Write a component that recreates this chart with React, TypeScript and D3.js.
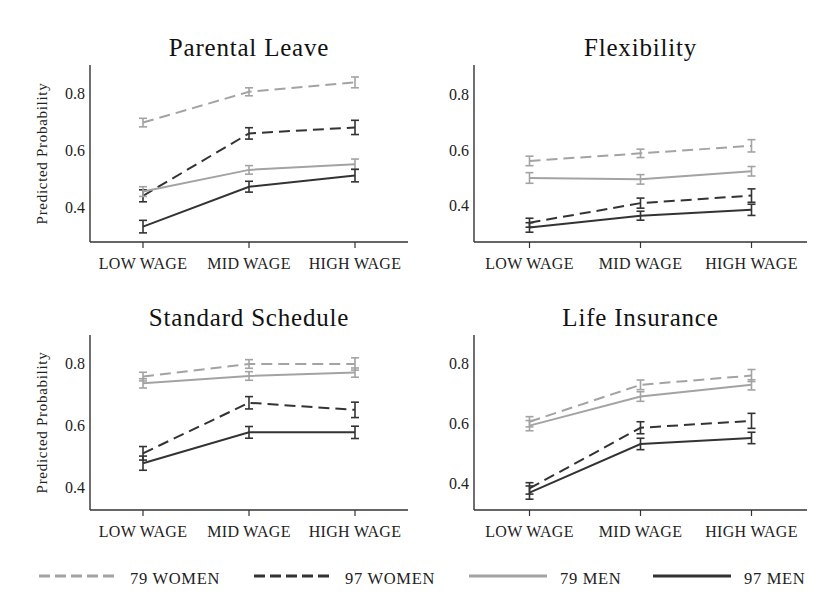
import React from "react";
import * as d3 from "d3";

// Wage categories on the x axis and the four survey cohorts
const WAGES = ["LOW WAGE", "MID WAGE", "HIGH WAGE"];
const GROUPS = ["79 WOMEN", "97 WOMEN", "79 MEN", "97 MEN"];
const Y_TICKS = [0.4, 0.6, 0.8];

// Predicted probabilities (rows follow GROUPS, columns follow WAGES)
const parentalLeaveMeans = [
  [0.698, 0.806, 0.839],
  [0.441, 0.66, 0.681],
  [0.456, 0.532, 0.552],
  [0.333, 0.473, 0.512],
];
const parentalLeaveErrors = [
  [0.015, 0.014, 0.019],
  [0.021, 0.02, 0.025],
  [0.017, 0.015, 0.018],
  [0.022, 0.019, 0.022],
];

const flexibilityMeans = [
  [0.561, 0.588, 0.615],
  [0.34, 0.41, 0.437],
  [0.5, 0.495, 0.524],
  [0.323, 0.365, 0.386],
];
const flexibilityErrors = [
  [0.017, 0.015, 0.022],
  [0.016, 0.018, 0.024],
  [0.019, 0.017, 0.017],
  [0.017, 0.016, 0.02],
];

const standardScheduleMeans = [
  [0.759, 0.8, 0.8],
  [0.51, 0.674, 0.651],
  [0.737, 0.761, 0.772],
  [0.478, 0.578, 0.578],
];
const standardScheduleErrors = [
  [0.014, 0.014, 0.02],
  [0.022, 0.02, 0.025],
  [0.015, 0.014, 0.015],
  [0.023, 0.019, 0.02],
];

const lifeInsuranceMeans = [
  [0.605, 0.728, 0.759],
  [0.383, 0.585, 0.608],
  [0.592, 0.689, 0.728],
  [0.369, 0.531, 0.551],
];
const lifeInsuranceErrors = [
  [0.017, 0.016, 0.02],
  [0.019, 0.02, 0.025],
  [0.017, 0.016, 0.017],
  [0.022, 0.019, 0.019],
];

const LIGHT = "#a3a3a3";
const DARK = "#333333";
const groupColor = [LIGHT, DARK, LIGHT, DARK];
const groupDash = ["11,6", "11,6", null, null];
const FONT = "Liberation Serif, DejaVu Serif, serif";

type PanelSpec = {
  title: string;
  means: number[][];
  errors: number[][];
  domain: [number, number];
  left: number;
  right: number;
  top: number;
  bottom: number;
  yTitle: boolean;
};

const panels: PanelSpec[] = [
  { title: "Parental Leave", means: parentalLeaveMeans, errors: parentalLeaveErrors, domain: [0.279, 0.9], left: 90, right: 408, top: 65, bottom: 242, yTitle: true },
  { title: "Flexibility", means: flexibilityMeans, errors: flexibilityErrors, domain: [0.271, 0.904], left: 474, right: 807, top: 65, bottom: 242, yTitle: false },
  { title: "Standard Schedule", means: standardScheduleMeans, errors: standardScheduleErrors, domain: [0.326, 0.894], left: 90, right: 408, top: 335, bottom: 510, yTitle: true },
  { title: "Life Insurance", means: lifeInsuranceMeans, errors: lifeInsuranceErrors, domain: [0.311, 0.894], left: 474, right: 807, top: 335, bottom: 510, yTitle: false },
];

const textStyle = { fontFamily: FONT };

function Panel({ p }: { p: PanelSpec }) {
  const x = d3.scalePoint<string>().domain(WAGES).range([p.left, p.right]).padding(0.5);
  const y = d3.scaleLinear().domain(p.domain).range([p.bottom, p.top]);
  const line = d3
    .line<number>()
    .x((_, i) => x(WAGES[i]) as number)
    .y((v) => y(v));
  const cx = (p.left + p.right) / 2;
  return (
    <g>
      <text x={cx} y={p.top - 9} textAnchor="middle" style={textStyle} fontSize={25} letterSpacing={0.8} fill="#111">
        {p.title}
      </text>
      {p.yTitle && (
        <text
          transform={`translate(${47},${(p.top + p.bottom) / 2}) rotate(-90)`}
          textAnchor="middle"
          style={textStyle}
          fontSize={15}
          letterSpacing={0.7}
          fill="#222"
        >
          Predicted Probability
        </text>
      )}
      {Y_TICKS.map((t) => (
        <text key={t} x={p.left - 5} y={y(t) + 5.5} textAnchor="end" style={textStyle} fontSize={16} fill="#222">
          {t.toFixed(1)}
        </text>
      ))}
      {WAGES.map((w) => (
        <g key={w}>
          <line x1={x(w)} x2={x(w)} y1={p.bottom} y2={p.bottom + 6} stroke={DARK} strokeWidth={1.2} />
          <text x={x(w)} y={p.bottom + 27} textAnchor="middle" style={textStyle} fontSize={16} letterSpacing={0.3} fill="#222">
            {w}
          </text>
        </g>
      ))}
      {GROUPS.map((g, gi) => (
        <g key={g}>
          <path
            d={line(p.means[gi]) || ""}
            fill="none"
            stroke={groupColor[gi]}
            strokeWidth={2}
            strokeDasharray={groupDash[gi] || undefined}
          />
          {p.means[gi].map((m, i) => {
            const xi = x(WAGES[i]) as number;
            const lo = y(m - p.errors[gi][i]);
            const hi = y(m + p.errors[gi][i]);
            return (
              <g key={i} stroke={groupColor[gi]} strokeWidth={1.6}>
                <line x1={xi} x2={xi} y1={lo} y2={hi} />
                <line x1={xi - 4} x2={xi + 4} y1={lo} y2={lo} />
                <line x1={xi - 4} x2={xi + 4} y1={hi} y2={hi} />
              </g>
            );
          })}
        </g>
      ))}
      <line x1={p.left} x2={p.left} y1={p.top} y2={p.bottom} stroke={DARK} strokeWidth={1.4} />
      <line x1={p.left} x2={p.right} y1={p.bottom} y2={p.bottom} stroke={DARK} strokeWidth={1.4} />
    </g>
  );
}

// Legend entry start positions
const legendLineX = [39, 254, 469, 653];

export default function App() {
  return (
    <svg
      width={821}
      height={602}
      style={{ position: "absolute", left: 0, top: 0, background: "#fff" }}
    >
      <rect width={821} height={602} fill="#fff" />
      {panels.map((p) => (
        <Panel key={p.title} p={p} />
      ))}
      {GROUPS.map((g, gi) => {
        const x0 = legendLineX[gi];
        return (
          <g key={g}>
            <line
              x1={x0}
              x2={x0 + 78}
              y1={576}
              y2={576}
              stroke={groupColor[gi]}
              strokeWidth={3}
              strokeDasharray={groupDash[gi] ? "11,5" : undefined}
            />
            <text x={x0 + 91} y={583.5} style={textStyle} fontSize={16.5} letterSpacing={0.7} fill="#222">
              {g}
            </text>
          </g>
        );
      })}
    </svg>
  );
}
